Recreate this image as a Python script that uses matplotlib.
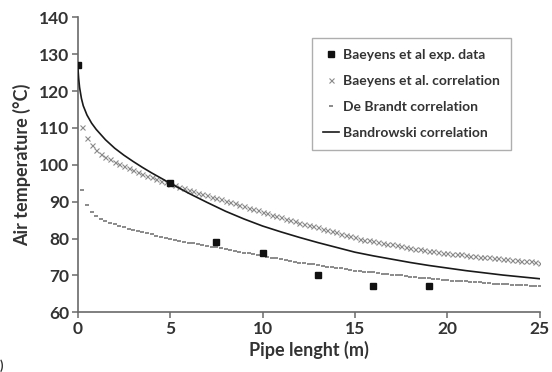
import numpy as np
import matplotlib.pyplot as plt

plt.rcParams['font.family'] = ['Lato', 'DejaVu Sans']
plt.rcParams['font.weight'] = 'bold'

# measured air temperature along the pipe
exp_x = [0, 5, 7.5, 10, 13, 16, 19]
exp_T = [127, 95, 79, 76, 70, 67, 67]

# correlation curves, sampled every 0.25 m from 0.25 to 25 m
corr_x = [0.25 * i for i in range(1, 101)]
baeyens_T = [
    110.2, 107.2, 105.3, 104.0, 103.0, 102.2, 101.5, 100.8, 100.2, 99.6,
    99.0, 98.5, 98.0, 97.5, 97.0, 96.6, 96.1, 95.7, 95.2, 94.8,
    94.4, 94.0, 93.6, 93.2, 92.8, 92.4, 92.1, 91.7, 91.4, 91.0,
    90.6, 90.3, 89.9, 89.6, 89.2, 88.8, 88.4, 88.0, 87.7, 87.3,
    86.9, 86.5, 86.1, 85.8, 85.4, 85.0, 84.7, 84.3, 84.0, 83.7,
    83.3, 83.0, 82.7, 82.3, 82.0, 81.7, 81.3, 81.0, 80.7, 80.3,
    80.0, 79.7, 79.5, 79.2, 79.0, 78.8, 78.6, 78.4, 78.2, 78.0,
    77.8, 77.5, 77.3, 77.1, 76.9, 76.7, 76.5, 76.4, 76.2, 76.1,
    75.9, 75.8, 75.7, 75.5, 75.4, 75.3, 75.1, 75.0, 74.9, 74.7,
    74.6, 74.5, 74.4, 74.2, 74.1, 74.0, 73.9, 73.8, 73.6, 73.5,
]
debrandt_T = [
    93.1, 89.1, 87.3, 86.2, 85.4, 84.8, 84.3, 83.9, 83.5, 83.1,
    82.7, 82.4, 82.0, 81.7, 81.4, 81.1, 80.8, 80.5, 80.2, 79.8,
    79.6, 79.4, 79.1, 78.9, 78.7, 78.5, 78.2, 78.0, 77.8, 77.6,
    77.4, 77.1, 76.9, 76.7, 76.4, 76.2, 76.0, 75.7, 75.5, 75.3,
    75.1, 74.8, 74.6, 74.4, 74.2, 73.9, 73.7, 73.5, 73.3, 73.2,
    73.0, 72.8, 72.6, 72.4, 72.2, 72.0, 71.9, 71.7, 71.5, 71.3,
    71.2, 71.0, 70.9, 70.8, 70.6, 70.5, 70.4, 70.2, 70.1, 70.0,
    69.8, 69.7, 69.6, 69.4, 69.3, 69.2, 69.1, 68.9, 68.8, 68.7,
    68.6, 68.5, 68.4, 68.4, 68.3, 68.2, 68.1, 68.0, 67.9, 67.8,
    67.8, 67.7, 67.6, 67.5, 67.4, 67.3, 67.3, 67.2, 67.1, 67.0,
]

band_x = [0, 0.05, 0.1, 0.2, 0.3, 0.5, 0.75, 1, 1.5, 2, 2.5, 3, 3.5, 4, 4.5,
          5, 6, 7, 8, 9, 10, 11, 12, 13, 14, 15, 16, 17, 18, 19, 20, 21, 22,
          23, 24, 25]
band_T = [127, 123.5, 121, 118, 116, 113.5, 111.3, 109.6, 106.8, 104.5, 102.6,
          100.9, 99.3, 97.8, 96.4, 95.0, 92.3, 89.8, 87.4, 85.3, 83.4, 81.8,
          80.3, 78.9, 77.6, 76.3, 75.3, 74.4, 73.5, 72.7, 72.0, 71.3, 70.7,
          70.1, 69.6, 69.1]

fig = plt.figure(figsize=(5.52, 3.72), dpi=100)
ax = fig.add_axes([0.1408, 0.1605, 0.837, 0.793])

ax.plot(exp_x, exp_T, 's', color='#111111', markersize=4.6,
        label='Baeyens et al exp. data', zorder=4)
ax.plot(corr_x, baeyens_T, 'x', color='#8a8a8a', markersize=3.6,
        markeredgewidth=0.8, label='Baeyens et al. correlation')
ax.plot(corr_x, debrandt_T, '_', color='#8a8a8a', markersize=3.4,
        markeredgewidth=1.4, label='De Brandt correlation')
ax.plot(band_x, band_T, '-', color='#1a1a1a', linewidth=1.2,
        label='Bandrowski correlation', zorder=3)

ax.set_xlim(0, 25)
ax.set_ylim(60, 140)
ax.set_xticks(np.arange(0, 26, 5))
ax.set_yticks(np.arange(60, 141, 10))

for side in ['top', 'right']:
    ax.spines[side].set_visible(False)
for side in ['left', 'bottom']:
    ax.spines[side].set_color('#6a6a6a')
    ax.spines[side].set_linewidth(1.2)
ax.tick_params(direction='out', length=4, width=1.1, color='#6a6a6a',
               labelsize=12.5, labelcolor='#333333', pad=2)
for lbl in ax.get_xticklabels() + ax.get_yticklabels():
    lbl.set_fontweight('bold')

ax.set_xlabel('Pipe lenght (m)', fontsize=13, fontweight='bold',
              color='#333333', labelpad=3)
ax.set_ylabel('Air temperature (°C)', fontsize=13, fontweight='bold',
              color='#333333', labelpad=6)

leg = ax.legend(loc='upper left', bbox_to_anchor=(0.506, 0.929),
                fontsize=10, frameon=True, fancybox=False, handlelength=1.2,
                handletextpad=0.25, borderpad=0.8, labelspacing=1.0,
                borderaxespad=0)
leg.get_frame().set_edgecolor('#9a9a9a')
leg.get_frame().set_linewidth(1.0)
for t in leg.get_texts():
    t.set_color('#333333')
    t.set_fontweight('bold')

fig.text(0.0, 0.005, ')', fontsize=9, color='#333333')

fig.savefig('out.png', dpi=100)
